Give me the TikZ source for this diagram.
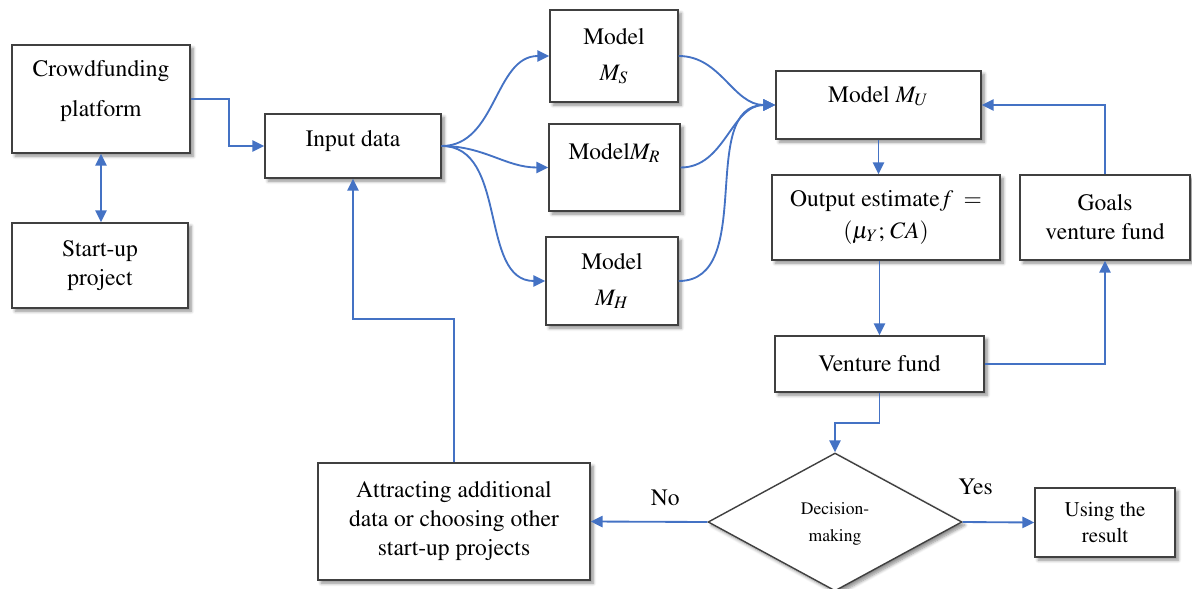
\documentclass[tikz,border=0pt]{standalone}
\usepackage[T1]{fontenc}
\usepackage{mathptmx}
\usepackage{tikz}
\usetikzlibrary{positioning,arrows.meta,calc,shapes.geometric,shadows.blur}
\definecolor{flowBlue}{HTML}{4472C4}
\definecolor{boxGray}{HTML}{404040}

\begin{document}
\begin{tikzpicture}[
    x=0.02cm, y=-0.02cm,
    box/.style={draw=boxGray, line width=0.8pt, fill=white, inner sep=0pt, align=center,
      font=\fontsize{13.4}{16.5}\selectfont,
      blur shadow={shadow blur steps=6, shadow xshift=1.8pt, shadow yshift=-1.8pt, shadow opacity=45},
      minimum width=#1},
    box/.default=3cm,
    arrow/.style={-{Triangle[length=6.8pt, width=6.4pt]}, draw=flowBlue, line width=1.05pt},
    dblarrow/.style={{Triangle[length=6.8pt, width=6.4pt]}-{Triangle[length=6.8pt, width=6.4pt]}, draw=flowBlue, line width=1.05pt},
    lbl/.style={font=\fontsize{13.4}{16.5}\selectfont, inner sep=0pt}
  ]
  \useasboundingbox (0,0) rectangle (1192,588);

  % left column
  \node[box=3.56cm, minimum height=2.16cm, font=\fontsize{13.4}{23.3}\selectfont] (crowd) at (101,99) {Crowdfunding\\platform\\[-0.4cm]~};
  \node[box=3.52cm, minimum height=1.7cm] (startup) at (100,265.5) {Start-up\\project};
  \node[box=3.52cm, minimum height=1.28cm, text depth=8pt] (input) at (353,146) {Input data};

  % models
  \node[box=2.56cm, minimum height=1.84cm, font=\fontsize{13.4}{20.5}\selectfont] (ms) at (614,56) {Model\\$M_S$};
  \node[box=2.62cm, minimum height=1.74cm] (mr) at (614.5,167.5) {Model$M_R$\\[2pt]~};
  \node[box=2.64cm, minimum height=1.76cm, font=\fontsize{13.4}{20.5}\selectfont] (mh) at (612,281) {Model\\$M_H$};

  % right part
  \node[box=4.1cm, minimum height=1.36cm, text depth=12pt] (mu) at (878.5,105) {Model $M_U$};
  \node[box=4.56cm, minimum height=1.7cm, font=\fontsize{13.4}{18}\selectfont] (output) at (886,217.5) {Output estimate$f\;=$\\$(\mu_Y;\,CA)$};
  \node[box=3.4cm, minimum height=1.7cm] (goals) at (1105,217.5) {Goals\\venture fund};
  \node[box=4.18cm, minimum height=1.12cm] (venture) at (879.5,364) {Venture fund};

  % decision row
  \node[draw=boxGray, line width=0.8pt, fill=white, diamond, aspect=1.84, inner sep=0pt,
    minimum width=5.08cm, minimum height=2.76cm, align=center,
    blur shadow={shadow blur steps=6, shadow xshift=1.8pt, shadow yshift=-1.8pt, shadow opacity=45},
    font=\fontsize{10}{15}\selectfont, text depth=-4pt] (decision) at (835,522) {Decision-\\making};
  \node[box=5.44cm, minimum height=2.34cm] (attract) at (454,521.5) {Attracting additional\\data or choosing other\\start-up projects};
  \node[box=2.8cm, minimum height=1.38cm, font=\fontsize{11.9}{15}\selectfont] (result) at (1105,522.5) {Using the\\result};

  % connectors
  \draw[arrow] (crowd.east) -- ++(38,0) |- (input.west);
  \draw[dblarrow] (crowd.south) -- (crowd.south |- startup.north);

  \draw[arrow] (input.east) to[out=0, in=180] (ms.west);
  \draw[arrow] (input.east) to[out=0, in=180] (mr.west);
  \draw[arrow] (input.east) to[out=0, in=180] (mh.west);

  \draw[arrow] (ms.east) to[out=0, in=180] (mu.west);
  \draw[arrow] (mr.east) to[out=0, in=180] (mu.west);
  \draw[arrow] (mh.east) to[out=0, in=180] (mu.west);

  \draw[arrow] (mu.south) -- (mu.south |- output.north);
  \draw[arrow] (venture.north |- output.south) -- (venture.north);
  \draw[arrow] (venture.east) -| (goals.south);
  \draw[arrow] (goals.north) |- (mu.east);
  \draw[arrow] (venture.south) -- ++(0,30) -| (decision.north);

  \draw[arrow] (decision.west) -- (attract.east) node[lbl, pos=0.36, above=0.3cm] {No};
  \draw[arrow] (decision.east) -- (result.west) node[lbl, pos=0.18, above=0.52cm] {Yes};
  \draw[arrow] (attract.north) -- ++(0,-143) -| (input.south);
\end{tikzpicture}
\end{document}
